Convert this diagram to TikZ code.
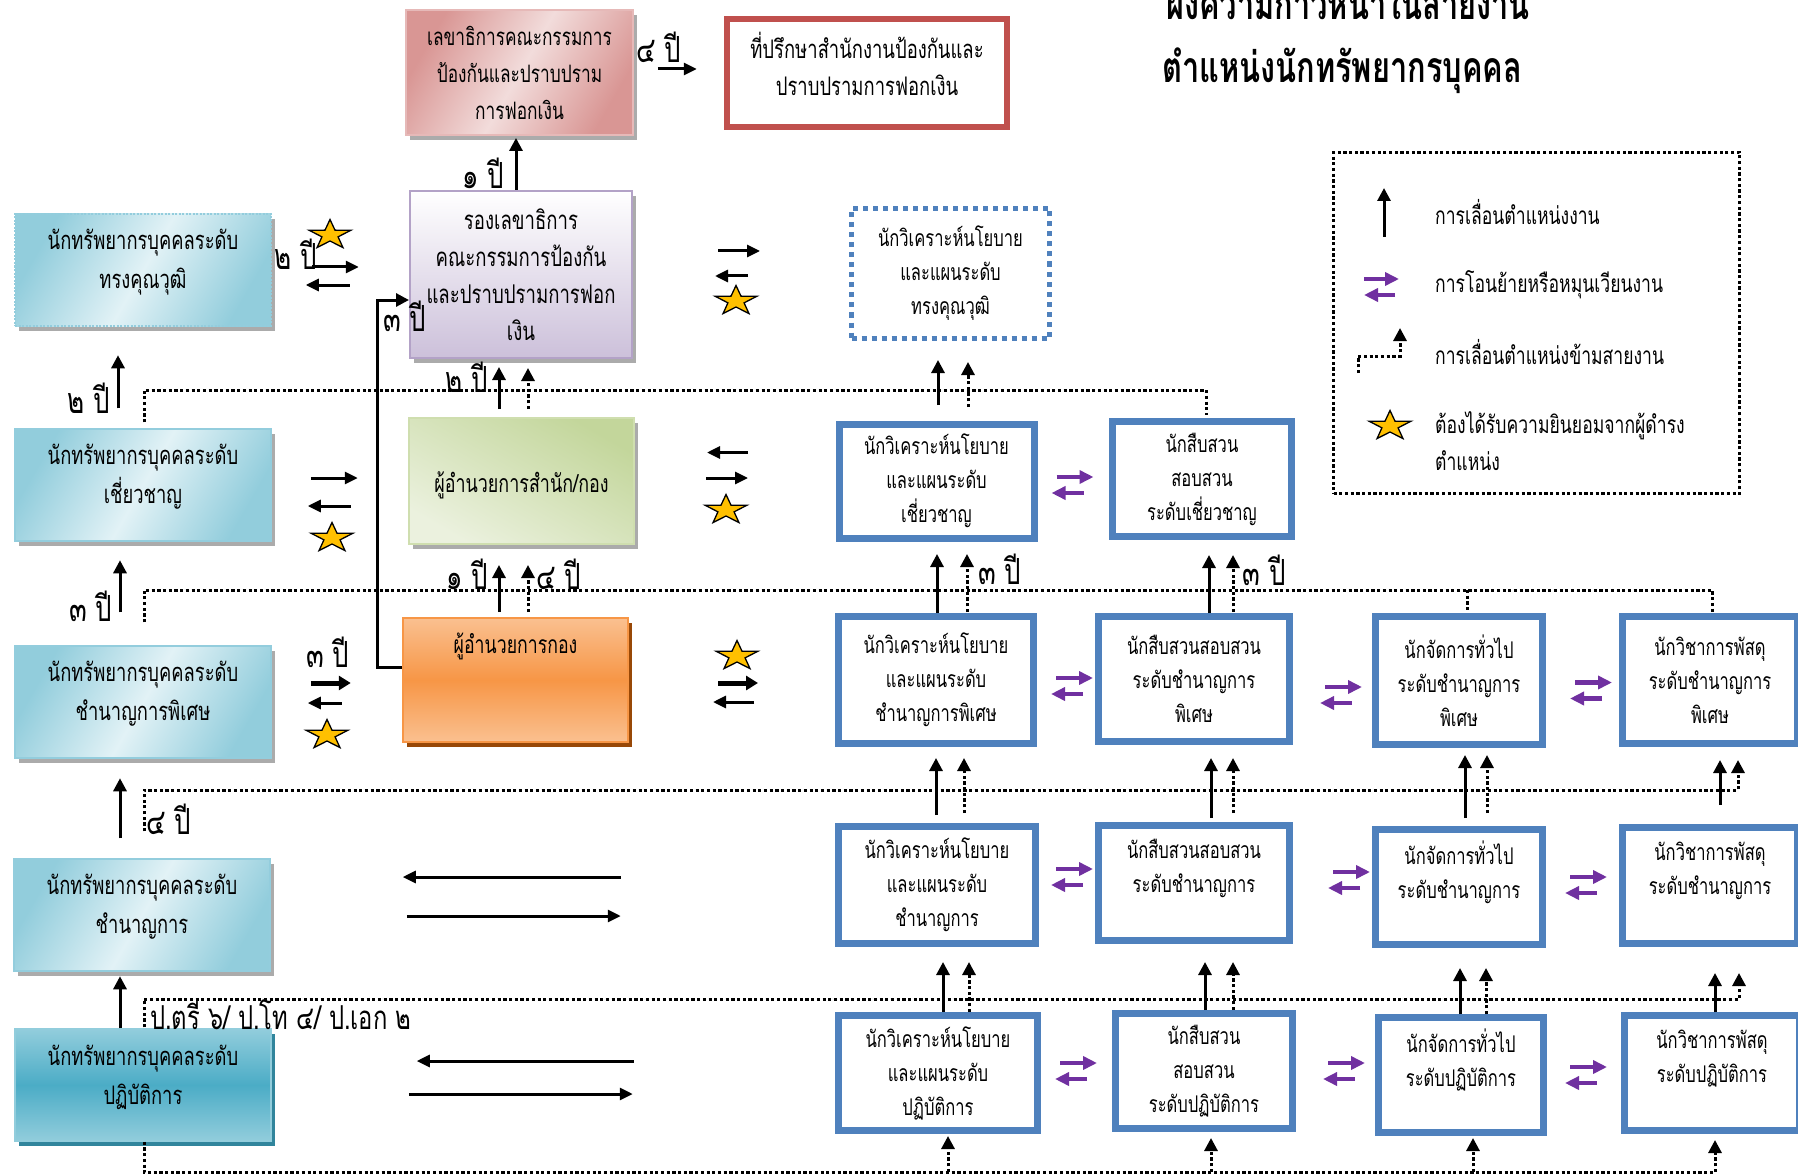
\documentclass[tikz,border=0pt]{standalone}
\usepackage{fontspec}
\newfontfamily\thaifont[Script=Thai,FakeStretch=0.72]{Loma}
\usetikzlibrary{arrows.meta,calc,shadows}

\definecolor{cyanedge}{HTML}{93CDDD}
\definecolor{cyandark}{HTML}{92CDDC}
\definecolor{cyanlight}{HTML}{E2F2F6}
\definecolor{tealdark}{HTML}{4BACC6}
\definecolor{tealedge}{HTML}{31859C}
\definecolor{postblue}{HTML}{4F81BD}
\definecolor{swapviolet}{HTML}{7030A0}
\definecolor{staryellow}{HTML}{FFC000}
\definecolor{redfill}{HTML}{D99694}
\definecolor{redlight}{HTML}{F2DCDB}
\definecolor{rededge}{HTML}{E6B9B8}
\definecolor{advred}{HTML}{C0504D}
\definecolor{lilac}{HTML}{CCC0DA}
\definecolor{lilacedge}{HTML}{B3A2C7}
\definecolor{greenfill}{HTML}{C3D69B}
\definecolor{greenlight}{HTML}{EBF1DE}
\definecolor{orangefill}{HTML}{F79646}
\definecolor{orangelight}{HTML}{FAC090}
\definecolor{orangeshadow}{HTML}{984807}

\begin{document}
\begin{tikzpicture}[
    x = 1pt, y = -1pt,
    >={Triangle[length=13pt,width=13pt]},
    box/.style = {
      rectangle,
      align = center,
      inner sep = 0pt,
      font = \thaifont\fontsize{24}{37}\selectfont
    },
    grayshadow/.style = {
      drop shadow = {shadow xshift=4pt, shadow yshift=-5pt, fill=black!55, opacity=.6}
    },
    lefttext/.style = {
      align = center,
      inner sep = 0pt,
      yshift = 8pt,
      font = \thaifont\fontsize{25.5}{39}\selectfont
    },
    leftbox/.style = {
      box,
      draw = cyanedge,
      line width = 1.5pt,
      minimum width = 256pt,
      minimum height = 112pt,
      label = {[lefttext]center:{#1}}
    },
    cyanfill/.style = {
      top color = cyandark,
      bottom color = cyandark,
      middle color = cyanlight,
      shading angle = 60,
      grayshadow
    },
    post/.style = {
      box,
      draw = postblue,
      line width = 7pt,
      fill = white,
      font = \thaifont\fontsize{23}{34}\selectfont
    },
    up/.style = {->, line width=3pt},
    cross/.style = {line width=3pt, dash pattern=on 3.2pt off 2.5pt},
    dup/.style = {->, cross},
    flow/.style = {->, line width=3pt, >={Triangle[length=13pt,width=12pt]}},
    bold flow/.style = {flow, line width=5pt, >={Triangle[length=12pt,width=14pt]}},
    swap/.style = {-{Triangle[length=14pt,width=13pt]}, line width=4.5pt, swapviolet},
    yr/.style = {
      inner sep = 0pt,
      font = \thaifont\fontsize{36}{36}\selectfont
    },
    legend/.style = {
      anchor = west,
      align = left,
      inner sep = 0pt,
      font = \thaifont\fontsize{24.4}{37}\selectfont
    },
    ystar/.pic = {
      \draw[fill=staryellow, line width=1.3pt, line join=miter]
        (-90:22 and 15.5) -- (-54:8.5 and 6) -- (-18:22 and 15.5) -- (18:8.5 and 6)
        -- (54:22 and 15.5) -- (90:8.5 and 6) -- (126:22 and 15.5) -- (162:8.5 and 6)
        -- (198:22 and 15.5) -- (234:8.5 and 6) -- cycle;
    }
  ]
  \useasboundingbox (0,0) rectangle (1798,1174);

  % title
  \node[anchor=base west, inner sep=0pt, font=\thaifont\bfseries\fontsize{42.7}{42.7}\selectfont] (title1) at (1166,20) {ผังความก้าวหน้าในสายงาน};
  \node[anchor=base west, inner sep=0pt, font=\thaifont\bfseries\fontsize{42.7}{42.7}\selectfont] (title2) at (1162,83) {ตำแหน่งนักทรัพยากรบุคคล};

  % left column
  \node[leftbox={นักทรัพยากรบุคคลระดับ\\ทรงคุณวุฒิ}, cyanfill, dash pattern=on 2pt off 1.5pt] (l1) at (143,270) {};
  \node[leftbox={นักทรัพยากรบุคคลระดับ\\เชี่ยวชาญ}, cyanfill] (l2) at (143,485) {};
  \node[leftbox={นักทรัพยากรบุคคลระดับ\\ชำนาญการพิเศษ}, cyanfill] (l3) at (143,702) {};
  \node[leftbox={นักทรัพยากรบุคคลระดับ\\ชำนาญการ}, cyanfill] (l4) at (142,915) {};
  \node[leftbox={นักทรัพยากรบุคคลระดับ\\ปฏิบัติการ}, draw=cyandark, top color=cyandark, bottom color=cyandark, middle color=tealdark,
        drop shadow={shadow xshift=4pt, shadow yshift=-5pt, fill=tealedge, opacity=1}] (l5) at (143,1085) {};

  % centre column
  \node[box, draw=rededge, line width=1.5pt, minimum width=227pt, minimum height=125pt,
        top color=redfill, bottom color=redfill, middle color=redlight, shading angle=60, grayshadow] (sec) at (519.5,72.5) {เลขาธิการคณะกรรมการ\\ป้องกันและปราบปราม\\การฟอกเงิน};
  \node[box, draw=advred, line width=6pt, fill=white, minimum width=280pt, minimum height=108pt,
        label={[box, yshift=9pt, font=\thaifont\fontsize{25.6}{37}\selectfont]center:{ที่ปรึกษาสำนักงานป้องกันและ\\ปราบปรามการฟอกเงิน}}] (adv) at (867,73) {};
  \node[box, draw=lilacedge, line width=2pt, minimum width=222pt, minimum height=167pt,
        top color=white, bottom color=lilac, grayshadow, font=\thaifont\fontsize{25.8}{37}\selectfont] (dep) at (521,274.5) {รองเลขาธิการ\\คณะกรรมการป้องกัน\\และปราบปรามการฟอก\\เงิน};
  \node[box, draw=greenfill!80!white, line width=2pt, minimum width=225pt, minimum height=126pt,
        top color=greenfill, bottom color=greenlight, shading angle=-30, grayshadow,
        label={[box, yshift=-4pt, font=\thaifont\fontsize{24.9}{37}\selectfont]center:ผู้อำนวยการสำนัก/กอง}] (dir) at (521.5,481) {};
  \node[box, draw=orangefill, line width=2pt, minimum width=225pt, minimum height=124pt,
        top color=orangelight, bottom color=orangelight, middle color=orangefill,
        drop shadow={shadow xshift=4pt, shadow yshift=-5pt, fill=orangeshadow, opacity=1},
        font=\thaifont\fontsize{24.6}{37}\selectfont] (div) at (515.5,680) {ผู้อำนวยการกอง\\~\\~};

  % right grid
  \node[post, line width=5pt, dash pattern=on 5pt off 5pt, minimum width=198pt, minimum height=130pt] (a1) at (950.5,273.5) {นักวิเคราะห์นโยบาย\\และแผนระดับ\\ทรงคุณวุฒิ};

  \node[post, minimum width=195pt, minimum height=114pt] (b1) at (936.5,481) {นักวิเคราะห์นโยบาย\\และแผนระดับ\\เชี่ยวชาญ};
  \node[post, minimum width=179pt, minimum height=115pt] (b2) at (1202,479) {นักสืบสวน\\สอบสวน\\ระดับเชี่ยวชาญ};

  \node[post, minimum width=195pt, minimum height=127pt] (c1) at (936,680) {นักวิเคราะห์นโยบาย\\และแผนระดับ\\ชำนาญการพิเศษ};
  \node[post, minimum width=191pt, minimum height=125pt] (c2) at (1194,679) {นักสืบสวนสอบสวน\\ระดับชำนาญการ\\พิเศษ};
  \node[post, minimum width=167pt, minimum height=128pt] (c3) at (1459,680.5) {นักจัดการทั่วไป\\ระดับชำนาญการ\\พิเศษ};
  \node[post, minimum width=175pt, minimum height=127pt] (c4) at (1710,680) {นักวิชาการพัสดุ\\ระดับชำนาญการ\\พิเศษ};

  \node[post, minimum width=197pt, minimum height=117pt] (d1) at (937,885) {นักวิเคราะห์นโยบาย\\และแผนระดับ\\ชำนาญการ};
  \node[post, minimum width=191pt, minimum height=115pt] (d2) at (1194,883) {นักสืบสวนสอบสวน\\ระดับชำนาญการ\\~};
  \node[post, minimum width=167pt, minimum height=115pt] (d3) at (1459,887) {นักจัดการทั่วไป\\ระดับชำนาญการ\\~};
  \node[post, minimum width=175pt, minimum height=116pt] (d4) at (1710,885.5) {นักวิชาการพัสดุ\\ระดับชำนาญการ\\~};

  \node[post, minimum width=199pt, minimum height=115pt] (e1) at (938,1073) {นักวิเคราะห์นโยบาย\\และแผนระดับ\\ปฏิบัติการ};
  \node[post, minimum width=177pt, minimum height=115pt] (e2) at (1204,1071) {นักสืบสวน\\สอบสวน\\ระดับปฏิบัติการ};
  \node[post, minimum width=165pt, minimum height=115pt] (e3) at (1461,1075) {นักจัดการทั่วไป\\ระดับปฏิบัติการ\\~};
  \node[post, minimum width=175pt, minimum height=115pt] (e4) at (1712,1073) {นักวิชาการพัสดุ\\ระดับปฏิบัติการ\\~};

  % cross-line paths
  \draw[cross] ($(l2.north)+(1,-6)$) |- ($(b2.north)+(4,-28)$) -- ($(b2.north)+(4,-3)$);
  \draw[cross] ($(l3.north)+(1,-23)$) |- ($(c4.north)+(2,-23)$) -- ($(c4.north)+(2,-1)$);
  \draw[cross] ($(c3.north)+(8,-23)$) -- ($(c3.north)+(8,-1)$);
  \draw[dup] ($(l4.north)+(2,-27)$) |- ($(c4.south)+(28,43)$) -- ($(c4.south)+(28,13)$);
  \draw[dup] ($(l5.north)+(1,-1)$) |- ($(d4.south)+(29,52)$) -- ($(d4.south)+(29,26)$);
  \draw[cross] ($(l5.south)+(1,0)$) |- ($(e4.south)+(3,38)$);
  \draw[dup] ($(e1.south)+(10,38)$) -- ($(e1.south)+(10,2)$);
  \draw[dup] ($(e2.south)+(7,40)$) -- ($(e2.south)+(7,6)$);
  \draw[dup] ($(e3.south)+(12,36)$) -- ($(e3.south)+(12,2)$);
  \draw[dup] ($(e4.south)+(3,38)$) -- ($(e4.south)+(3,6)$);

  % promotions in the left column
  \draw[up] ($(l2.north)+(-25,-20)$) -- ++(0,-53);
  \draw[up] ($(l3.north)+(-23,-33)$) -- ++(0,-52);
  \draw[up] ($(l4.north)+(-22,-20)$) -- ++(0,-60);
  \draw[up] ($(l5.north)+(-23,0)$) -- ++(0,-52);
  \node[yr] (y21) at (89,398) {๒ ปี};
  \node[yr] (y32) at (91,606) {๓ ปี};
  \node[yr] (y43) at (169,819) {๔ ปี};
  \node[anchor=west, inner sep=0pt, font=\thaifont\fontsize{33}{33}\selectfont] (deg) at (150,1015) {ป.ตรี ๖/ ป.โท ๔/ ป.เอก ๒};

  % promotions in the centre column
  \draw[up] ($(dep.north)+(-5,0)$) -- ++(0,-52);
  \draw[up] ($(dir.north)+(-22.5,-8)$) -- ++(0,-42);
  \draw[dup] ($(dir.north)+(6.5,-8)$) -- ++(0,-41);
  \draw[up] ($(div.north)+(-16.5,-5)$) -- ++(0,-47);
  \draw[dup] ($(div.north)+(12.5,-5)$) -- ++(0,-47);
  \draw[up] ($(div.west)+(0,-13)$) -| ($(dep.west)+(-32,25.5)$) -- ($(dep.west)+(0,25.5)$);
  \draw[flow] ($(sec.east)+(24,-3.5)$) -- ++(39,0);
  \node[yr] (ysec) at (483,173) {๑ ปี};
  \node[yr] (yadv) at (659,47) {๔ ปี};
  \node[yr] (ydep) at (405,316) {๓ ปี};
  \node[yr] (ydir) at (467,377) {๒ ปี};
  \node[yr] (ydiv) at (467,574) {๑ ปี};
  \node[yr] (ydivx) at (559,574) {๔ ปี};

  % promotions in the right grid
  \draw[up] ($(b1.north)+(1.5,-15.5)$) -- ++(0,-45);
  \draw[dup] ($(b1.north)+(31.5,-13.5)$) -- ++(0,-45);
  \draw[up] ($(c1.north)+(1,0)$) -- ++(0,-59);
  \draw[dup] ($(c1.north)+(31,-1)$) -- ++(0,-58);
  \draw[up] ($(c2.north)+(15,0)$) -- ++(0,-58);
  \draw[dup] ($(c2.north)+(39,-1)$) -- ++(0,-57);
  \draw[up] ($(d1.north)+(-1,-8)$) -- ++(0,-57);
  \draw[dup] ($(d1.north)+(27,-10)$) -- ++(0,-55);
  \draw[up] ($(d2.north)+(17,-4)$) -- ++(0,-60);
  \draw[dup] ($(d2.north)+(39,-9)$) -- ++(0,-55);
  \draw[up] ($(d3.north)+(6,-8)$) -- ++(0,-63);
  \draw[dup] ($(d3.north)+(28,-13)$) -- ++(0,-58);
  \draw[up] ($(d4.north)+(10,-19)$) -- ++(0,-45);
  \draw[up] ($(e1.north)+(5,0)$) -- ++(0,-50);
  \draw[dup] ($(e1.north)+(31,0)$) -- ++(0,-50);
  \draw[up] ($(e2.north)+(1,0)$) -- ++(0,-48);
  \draw[dup] ($(e2.north)+(29,0)$) -- ++(0,-48);
  \draw[up] ($(e3.north)+(-1,0)$) -- ++(0,-46);
  \draw[dup] ($(e3.north)+(25,0)$) -- ++(0,-46);
  \draw[up] ($(e4.north)+(3,0)$) -- ++(0,-39);
  \node[yr] (yb1) at (1000,569) {๓ ปี};
  \node[yr] (yb2) at (1264,570) {๓ ปี};

  % transfers
  \draw[flow] ($(l1.east)+(40,-3)$) -- ++(47,0);
  \draw[flow] ($(l1.east)+(78,15)$) -- ++(-44,0);
  \draw[flow] ($(l2.east)+(39,-7)$) -- ++(47,0);
  \draw[flow] ($(l2.east)+(79,21)$) -- ++(-43,0);
  \draw[bold flow] ($(l3.east)+(39,-19)$) -- ++(40,0);
  \draw[flow] ($(l3.east)+(70,1)$) -- ++(-34,0);
  \draw[flow] ($(l4.east)+(350,-38)$) -- ++(-218,0);
  \draw[flow] ($(l4.east)+(136,1)$) -- ++(214,0);
  \draw[flow] ($(l5.east)+(362,-24)$) -- ++(-217,0);
  \draw[flow] ($(l5.east)+(137,9)$) -- ++(224,0);
  \node[yr] (yl1) at (296,254) {๒ ปี};
  \node[yr] (yl3) at (328,652) {๓ ปี};

  \draw[flow] ($(dep.east)+(85,-23.5)$) -- ++(42,0);
  \draw[flow] ($(dep.east)+(115,1.5)$) -- ++(-33,0);
  \draw[flow] ($(dir.east)+(113,-28.5)$) -- ++(-41,0);
  \draw[flow] ($(dir.east)+(71,-3)$) -- ++(42,0);
  \draw[bold flow] ($(div.east)+(89,3)$) -- ++(40,0);
  \draw[flow] ($(div.east)+(125,22)$) -- ++(-41,0);

  \foreach \a/\dx/\dy in {b1/19/-4, c1/19/-2, c2/32/8, c3/29/2, d1/17/-16,
                          d2/40/-11, d3/24/-10, e1/19/-10, e2/32/-8, e3/23/-8} {
    \draw[swap] ($(\a.east)+(\dx,\dy)$) -- ++(37,0);
    \draw[swap] ($(\a.east)+(\dx+27,\dy+16)$) -- ++(-32,0);
  }

  \pic at (330,235) {ystar};
  \pic at (332,538) {ystar};
  \pic at (327,735) {ystar};
  \pic at (736,301) {ystar};
  \pic at (726,510) {ystar};
  \pic at (737,656) {ystar};

  % legend
  \node[draw, cross, minimum width=406pt, minimum height=341pt] (key) at (1536.5,323) {};
  \node[legend] (k1) at (1435,212) {การเลื่อนตำแหน่งงาน};
  \node[legend] (k2) at (1435,285) {การโอนย้ายหรือหมุนเวียนงาน};
  \node[legend] (k3) at (1435,352) {การเลื่อนตำแหน่งข้ามสายงาน};
  \node[legend] (k4) at (1435,441) {ต้องได้รับความยินยอมจากผู้ดำรง\\ตำแหน่ง};
  \draw[up] ($(k1.west)+(-51,25)$) -- ++(0,-49);
  \draw[swap] ($(k2.west)+(-71,-6)$) -- ++(35,0);
  \draw[swap] ($(k2.west)+(-40,10)$) -- ++(-31,0);
  \draw[dup] ($(k3.west)+(-77,21)$) |- ($(k3.west)+(-35,4)$) -- ($(k3.west)+(-35,-24)$);
  \pic at (1390,426) {ystar};
\end{tikzpicture}
\end{document}
